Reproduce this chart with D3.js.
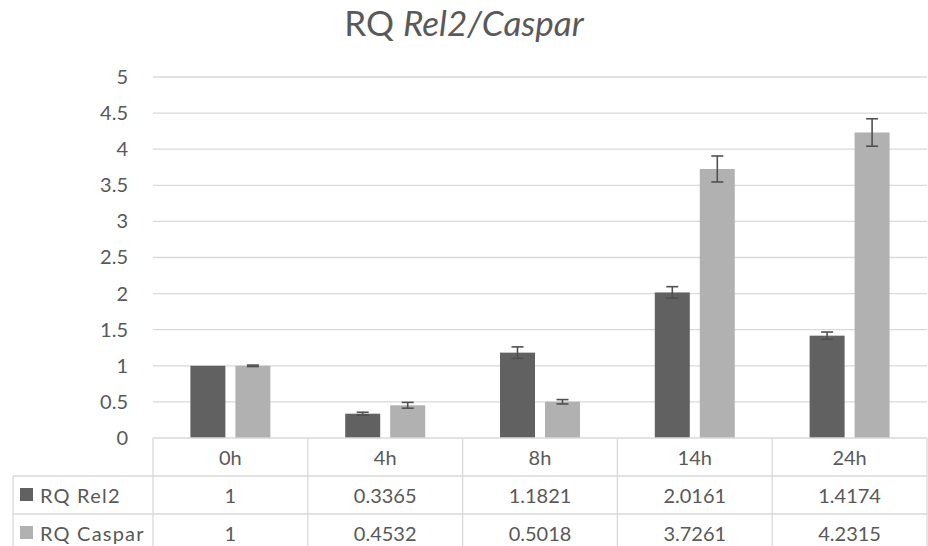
<!DOCTYPE html>
<html>
<head>
<meta charset="utf-8">
<script src="https://cdn.jsdelivr.net/npm/d3@7"></script>
<style>
  body { margin: 0; background: #fff; }
  text { font-family: Lato, "Open Sans", sans-serif; fill: #595959; }
</style>
</head>
<body>
<div id="chart"></div>
<script>
// data
const categories = ['0h', '4h', '8h', '14h', '24h'];
const seriesNames = ['RQ Rel2', 'RQ Caspar'];
const rel2Values = [1, 0.3365, 1.1821, 2.0161, 1.4174];
const casparValues = [1, 0.4532, 0.5018, 3.7261, 4.2315];
const rel2Errors = [0, 0.02, 0.08, 0.08, 0.05];
const casparErrors = [0.01, 0.04, 0.03, 0.18, 0.19];
const tableLabels = {
    'RQ Rel2': ['1', '0.3365', '1.1821', '2.0161', '1.4174'],
    'RQ Caspar': ['1', '0.4532', '0.5018', '3.7261', '4.2315']
};
const yTicks = [0, 0.5, 1, 1.5, 2, 2.5, 3, 3.5, 4, 4.5, 5];

const width = 928, height = 546;
const margin = {top: 77, right: 1, bottom: 108, left: 153};
const color = {'RQ Rel2': '#616161', 'RQ Caspar': '#b1b1b1'};

const svg = d3.select('#chart').append('svg')
    .attr('width', width)
    .attr('height', height);

// title
const title = svg.append('text')
    .attr('x', 464)
    .attr('y', 36)
    .attr('text-anchor', 'middle')
    .style('font-size', '35px');
title.append('tspan').text('RQ ');
title.append('tspan').style('font-style', 'italic').text('Rel2/Caspar');

const x = d3.scaleBand().domain(categories)
    .range([margin.left, width - margin.right]);
const y = d3.scaleLinear().domain([0, 5])
    .range([height - margin.bottom, margin.top]);

// inner band: 35px bars, 10px gap
const step = 45, pin = 10 / 45;
const pout = (x.bandwidth() / step - (2 - pin)) / 2;
const xs = d3.scaleBand().domain(seriesNames)
    .range([0, x.bandwidth()])
    .paddingInner(pin).paddingOuter(pout);

// grid lines
svg.append('g').selectAll('line')
    .data(yTicks.filter(d => d > 0))
    .enter().append('line')
    .attr('x1', margin.left).attr('x2', width - margin.right)
    .attr('y1', d => y(d)).attr('y2', d => y(d))
    .attr('stroke', '#d9d9d9').attr('stroke-width', 1.3);

// y axis labels
const yAxis = svg.append('g')
    .attr('transform', 'translate(' + margin.left + ',0)')
    .call(d3.axisLeft(y).tickValues(yTicks).tickSize(0).tickPadding(25).tickFormat(d3.format('')));
yAxis.select('.domain').remove();
yAxis.selectAll('text').style('font-size', '20px').attr('fill', '#595959');

// bars
const data = categories.map((c, i) => ({
    cat: c,
    vals: [
        {name: 'RQ Rel2', v: rel2Values[i], e: rel2Errors[i]},
        {name: 'RQ Caspar', v: casparValues[i], e: casparErrors[i]}
    ]
}));

const groups = svg.append('g').selectAll('g')
    .data(data)
    .enter().append('g')
    .attr('transform', d => 'translate(' + x(d.cat) + ',0)');

groups.selectAll('rect')
    .data(d => d.vals)
    .enter().append('rect')
    .attr('x', d => xs(d.name))
    .attr('width', xs.bandwidth())
    .attr('y', d => y(d.v))
    .attr('height', d => y(0) - y(d.v))
    .attr('fill', d => color[d.name]);

// error bars
const err = groups.selectAll('g.err')
    .data(d => d.vals.filter(v => v.e > 0))
    .enter().append('g')
    .attr('class', 'err')
    .attr('stroke', '#505050')
    .attr('stroke-width', 1.6);
const cx = d => xs(d.name) + xs.bandwidth() / 2;
err.append('line')
    .attr('x1', cx).attr('x2', cx)
    .attr('y1', d => y(d.v + d.e)).attr('y2', d => y(d.v - d.e));
err.append('line')
    .attr('x1', d => cx(d) - 6).attr('x2', d => cx(d) + 6)
    .attr('y1', d => y(d.v + d.e)).attr('y2', d => y(d.v + d.e));
err.append('line')
    .attr('x1', d => cx(d) - 6).attr('x2', d => cx(d) + 6)
    .attr('y1', d => y(d.v - d.e)).attr('y2', d => y(d.v - d.e));

// data table
const rowH = 38;
const tableTop = y(0);
const tableLeft = 13;
const grid = svg.append('g').attr('stroke', '#d9d9d9').attr('stroke-width', 1.3);

grid.append('line')
    .attr('x1', margin.left).attr('x2', width - margin.right)
    .attr('y1', tableTop).attr('y2', tableTop);
[1, 2].forEach(r => {
    grid.append('line')
        .attr('x1', tableLeft).attr('x2', width - margin.right)
        .attr('y1', tableTop + r * rowH).attr('y2', tableTop + r * rowH);
});
grid.selectAll('line.col')
    .data(categories.concat(['end']))
    .enter().append('line')
    .attr('x1', (d, i) => margin.left + i * x.step())
    .attr('x2', (d, i) => margin.left + i * x.step())
    .attr('y1', tableTop).attr('y2', height);
grid.append('line')
    .attr('x1', tableLeft).attr('x2', tableLeft)
    .attr('y1', tableTop + rowH).attr('y2', height);

svg.append('g').selectAll('text')
    .data(categories)
    .enter().append('text')
    .attr('x', d => x(d) + x.bandwidth() / 2)
    .attr('y', tableTop + rowH / 2)
    .attr('text-anchor', 'middle')
    .attr('dominant-baseline', 'central')
    .style('font-size', '20px')
    .text(d => d);

seriesNames.forEach((s, r) => {
    const cy = tableTop + rowH * (r + 1) + rowH / 2;
    svg.append('rect')
        .attr('x', 20).attr('y', cy - 7)
        .attr('width', 13).attr('height', 13)
        .attr('fill', color[s]);
    svg.append('text')
        .attr('x', 40).attr('y', cy)
        .attr('dominant-baseline', 'central')
        .style('font-size', '20px')
        .style('letter-spacing', '1.2px')
        .text(s);
    svg.append('g').selectAll('text')
        .data(tableLabels[s])
        .enter().append('text')
        .attr('x', (d, i) => x(categories[i]) + x.bandwidth() / 2)
        .attr('y', cy)
        .attr('text-anchor', 'middle')
        .attr('dominant-baseline', 'central')
        .style('font-size', '20px')
        .text(d => d);
});
</script>
</body>
</html>
